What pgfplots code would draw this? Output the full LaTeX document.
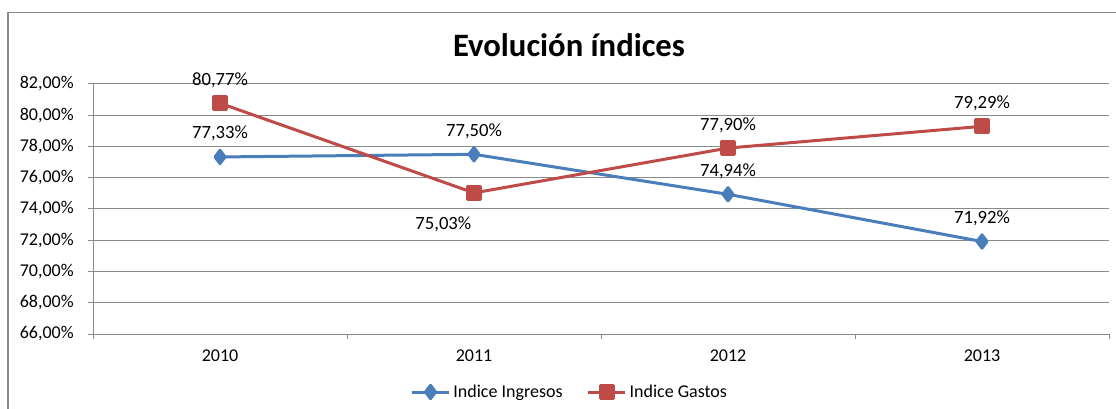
\documentclass[border=0pt]{standalone}
\usepackage{fontspec}
\setmainfont{Carlito}
\usepackage{pgfplots}
\usepackage{pgfplotstable}
\pgfplotsset{compat=1.18}
\definecolor{cblue}{HTML}{4A7EBB}
\definecolor{cred}{HTML}{BE4B48}
\definecolor{cgrid}{HTML}{8A8A8A}

\pgfplotstableread{
x y lab dx dy
0 77.33 {77,33\%} 0 13.5
1 77.50 {77,50\%} 0 13.5
2 74.94 {74,94\%} 0 13.5
3 71.92 {71,92\%} 0 13.5
}\ingresos
\pgfplotstableread{
x y lab dx dy
0 80.77 {80,77\%} 0 13.5
1 75.03 {75,03\%} -23 -27.4
2 77.90 {77,90\%} 0 13.5
3 79.29 {79,29\%} 0 13.5
}\gastos

\begin{document}
\begin{tikzpicture}
\useasboundingbox (0,0) rectangle (837pt,-306.75pt);
\draw[cgrid, line width=1.1pt] (6pt,-312pt) -- (6pt,-9.4pt) -- (842pt,-9.4pt);
\node[font=\fontsize{24.5}{28}\selectfont\bfseries] at (426.75pt,-34pt) {Evolución índices};
\begin{axis}[
  at={(69.75pt,-250.5pt)}, anchor=south west,
  scale only axis, width=762pt, height=187.5pt,
  xmin=-0.5, xmax=3.5, ymin=66, ymax=82,
  xtick={0,1,2,3}, xticklabels={2010,2011,2012,2013},
  minor xtick={-0.5,0.5,1.5,2.5,3.5},
  ytick={66,68,70,72,74,76,78,80,82},
  yticklabels={{66,00\%},{68,00\%},{70,00\%},{72,00\%},{74,00\%},{76,00\%},{78,00\%},{80,00\%},{82,00\%}},
  axis x line*=bottom, axis y line*=left,
  axis line style={cgrid, line width=0.75pt, -},
  tick align=outside,
  major tick length=4pt, minor tick length=4pt,
  tick style={cgrid, line width=0.75pt},
  major x tick style={draw=none},
  ymajorgrids,
  major grid style={cgrid, line width=0.75pt},
  tick label style={font=\fontsize{13.5}{16}\selectfont, text=black},
  yticklabel style={xshift=-7pt},
  xticklabel style={yshift=-4.5pt},
  legend style={at={(0.4695,-0.232)}, anchor=center, draw=none, fill=none,
    legend columns=2, font=\fontsize{13.5}{16}\selectfont,
    /tikz/every even column/.append style={column sep=16pt}},
  legend cell align=left,
  legend image code/.code={\draw[#1, mark repeat=2, mark phase=2] plot coordinates {(0pt,0pt)(14pt,0pt)(28pt,0pt)};},
  nodes near coords,
  point meta=explicit symbolic,
  visualization depends on={\thisrow{dx} \as \dx},
  visualization depends on={\thisrow{dy} \as \dy},
  every node near coord/.append style={anchor=base, inner sep=0pt, text=black,
    font=\fontsize{14}{16}\selectfont, xshift=\dx pt, yshift=\dy pt},
]
\addplot[cblue, line width=2.25pt, line join=round, mark=diamond*, mark size=5pt, mark options={solid}]
  table[x=x, y=y, meta=lab]{\ingresos};
\addlegendentry{Indice Ingresos}
\addplot[cred, line width=2.25pt, line join=round, mark=square*, mark size=4.9pt, mark options={solid}]
  table[x=x, y=y, meta=lab]{\gastos};
\addlegendentry{Indice Gastos}
\end{axis}
\end{tikzpicture}
\end{document}
